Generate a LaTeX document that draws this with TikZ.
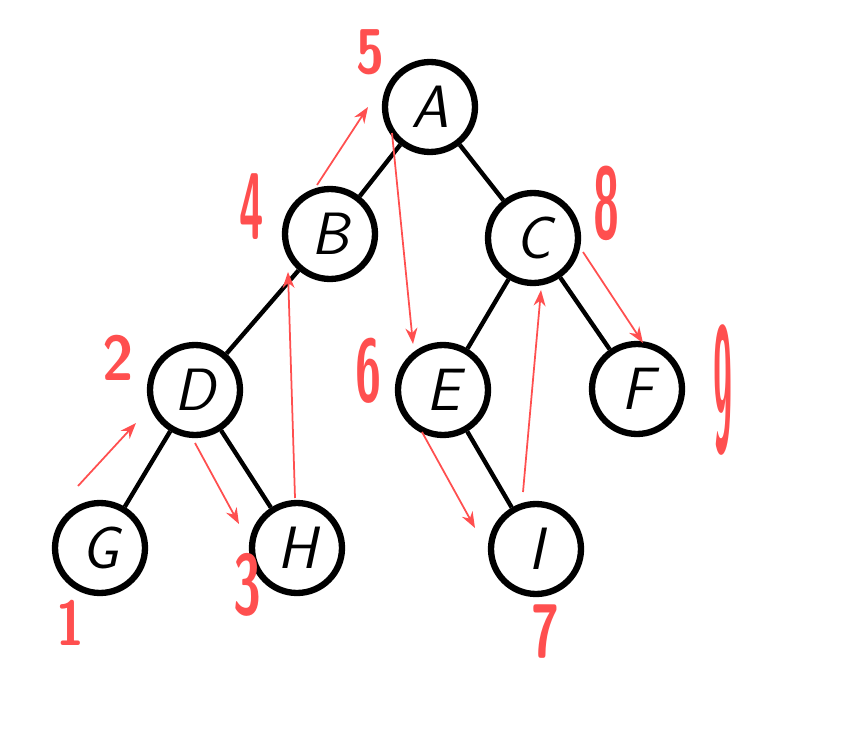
\documentclass[tikz,border=0pt]{standalone}
\usepackage{tikz}
\usetikzlibrary{arrows.meta,calc}
\definecolor{penred}{HTML}{FF4F4F}
\tikzset{
  tnode/.style={circle,draw=black,line width=3.6pt,minimum size=1.8cm,inner sep=0pt,font=\fontsize{34}{34}\selectfont\sffamily\slshape},
  link/.style={draw=black,line width=2.5pt},
  trav/.style={-{Stealth[length=3.2mm,width=2.4mm]},draw=penred,line width=1pt},
  num/.style={text=penred,inner sep=0pt,font=\fontsize{36}{36}\selectfont\sffamily\bfseries},
}
\begin{document}
\begin{tikzpicture}[x=0.02cm,y=0.02cm]
  \useasboundingbox (0,0) rectangle (865,745);
  % tree
  \node[tnode] (A) at (430,638) {A};
  \node[tnode] (B) at (330,511) {B};
  \node[tnode] (C) at (533,507) {C};
  \node[tnode] (D) at (195,355) {D};
  \node[tnode] (E) at (443,355) {E};
  \node[tnode] (F) at (637,356) {F};
  \node[tnode] (G) at (100,197) {G};
  \node[tnode] (H) at (297,197) {H};
  \node[tnode] (I) at (536,196) {I};
  \draw[link] (A) -- (B);
  \draw[link] (A) -- (C);
  \draw[link] (B) -- (D);
  \draw[link] (C) -- (E);
  \draw[link] (C) -- (F);
  \draw[link] (D) -- (G);
  \draw[link] (D) -- (H);
  \draw[link] (E) -- (I);
  % in-order walk
  \draw[trav] ($(G)+(-22,62)$) -- ($(D)+(-59,-33)$);
  \draw[trav] ($(D)+(0,-53)$) -- ($(H)+(-58,24)$);
  \draw[trav] ($(H)+(-2,50)$) -- ($(B)+(-42,-38)$);
  \draw[trav] ($(B)+(-13,49)$) -- ($(A)+(-62,0)$);
  \draw[trav] ($(A)+(-38,-26)$) -- ($(E)+(-30,46)$);
  \draw[trav] ($(E)+(-21,-42)$) -- ($(I)+(-61,21)$);
  \draw[trav] ($(I)+(-13,57)$) -- ($(C)+(8,-52)$);
  \draw[trav] ($(C)+(50,-14)$) -- ($(F)+(6,46)$);
  % visit order
  \foreach \x/\y/\t/\w/\s in {70/122/1/0.8/1.0, 118/387/2/0.9/1.0, 247/160/3/0.8/1.35, 252/538/4/0.7/1.5,
                               370/693/5/0.8/1.0, 369/374/6/0.75/1.4, 545/113/7/0.8/1.2, 607/542/8/0.75/1.6,
                               723/355/9/0.55/2.8} {
    \node[num] (n\t) at (\x,\y) {\scalebox{\w}[\s]{\t}};
  }
\end{tikzpicture}
\end{document}
